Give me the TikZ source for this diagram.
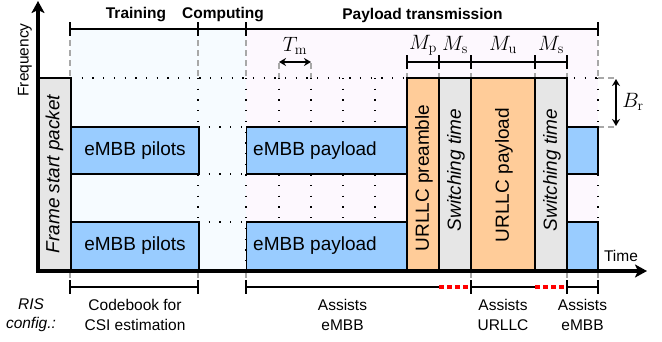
\documentclass[tikz,border=0pt]{standalone}
\usepackage[no-math]{fontspec}
\setmainfont{Liberation Sans}
\usetikzlibrary{arrows.meta}
\definecolor{embb}{HTML}{99CCFF}
\definecolor{urllc}{HTML}{FFCC99}
\definecolor{swg}{HTML}{E6E6E6}
\definecolor{bgblue}{HTML}{F6FBFF}
\definecolor{bgpink}{HTML}{FDF8FE}
\definecolor{dgray}{HTML}{A8A8A8}
\begin{document}
\begin{tikzpicture}[x=1pt,y=-1pt,
  blk/.style={draw=black, line width=1.4pt, inner sep=0pt, outer sep=0pt},
  embbbox/.style={blk, fill=embb},
  urllcbox/.style={blk, fill=urllc},
  swbox/.style={blk, fill=swg},
  bigtxt/.style={font=\fontsize{19}{22}\selectfont, inner sep=0pt},
  bigit/.style={font=\fontsize{19}{22}\selectfont\itshape, inner sep=0pt},
  hdr/.style={font=\fontsize{15.5}{18}\selectfont\bfseries, inner sep=0pt},
  smalltxt/.style={font=\fontsize{15.5}{19.5}\selectfont, inner sep=0pt, align=center},
  mathlbl/.style={font=\fontsize{19.5}{22}\selectfont, inner sep=0pt},
  dotline/.style={line width=1.3pt, dash pattern=on 1.3pt off 9.4pt, black},
  gdash/.style={line width=1.2pt, dash pattern=on 6pt off 4pt, dgray},
  rdash/.style={line width=3.2pt, dash pattern=on 5pt off 3pt, red},
  bar/.style={line width=1.5pt},
  dblarrow/.style={line width=1.6pt, {Stealth[length=7pt,width=8pt]}-{Stealth[length=7pt,width=8pt]}},
  axisline/.style={line width=3.5pt, line join=miter}
]
\useasboundingbox (0,0) rectangle (662,341);

% backgrounds
\fill[bgblue] (70,29) rectangle (246,271);
\fill[bgpink] (246,29) rectangle (598,271);

% dotted grid
\draw[dotline] (71,78) -- (598,78);
\foreach \yy in {127,174,222} { \draw[dotline] (198,\yy) -- (246,\yy); }
\foreach \xx in {198,246,279,311,343,375,598} { \draw[dotline] (\xx,78) -- (\xx,271); }

% grey dashed guides
\foreach \xx in {70,198,246,598} { \draw[gdash] (\xx,30) -- (\xx,78); }
\foreach \xx in {279,311,407,439,471,535,567} { \draw[gdash] (\xx,63) -- (\xx,78); }
\draw[gdash] (598,78) -- (617,78);
\draw[gdash] (598,127) -- (617,127);
\foreach \xx in {70,198,246,471,567,598} { \draw[gdash] (\xx,272) -- (\xx,287); }

% blocks
\node[swbox, minimum width=33pt, minimum height=193pt] (fsp) at (54.5,174.5) {};
\node[embbbox, minimum width=128pt, minimum height=47pt] (pil1) at (135,150.5) {};
\node[embbbox, minimum width=128pt, minimum height=49pt] (pil2) at (135,246.5) {};
\node[embbbox, minimum width=160.5pt, minimum height=47pt] (pay1) at (326.75,150.5) {};
\node[embbbox, minimum width=160.5pt, minimum height=49pt] (pay2) at (326.75,246.5) {};
\node[urllcbox, minimum width=32pt, minimum height=193pt] (pre) at (423,174.5) {};
\node[swbox, minimum width=32pt, minimum height=193pt] (sw1) at (455,174.5) {};
\node[urllcbox, minimum width=64pt, minimum height=193pt] (upay) at (503,174.5) {};
\node[swbox, minimum width=32pt, minimum height=193pt] (sw2) at (551,174.5) {};
\node[embbbox, minimum width=31pt, minimum height=47pt] (end1) at (582.5,150.5) {};
\node[embbbox, minimum width=31pt, minimum height=49pt] (end2) at (582.5,246.5) {};

% block texts
\node[bigit, rotate=90] (tfsp) at (54.5,174) {Frame start packet};
\node[bigtxt] (tpil1) at (135,151) {eMBB pilots};
\node[bigtxt] (tpil2) at (135,246) {eMBB pilots};
\node[bigtxt] (tpay1) at (315,151) {eMBB payload};
\node[bigtxt] (tpay2) at (315,246) {eMBB payload};
\node[bigtxt, rotate=90] (tpre) at (424,178) {URLLC preamble};
\node[bigit, rotate=90] (tsw1) at (456,170) {Switching time};
\node[bigtxt, rotate=90] (tupay) at (504,175) {URLLC payload};
\node[bigit, rotate=90] (tsw2) at (552,170) {Switching time};

% axes
\draw[axisline, {Stealth[length=12pt,width=13pt,inset=3pt]}-{Stealth[length=12pt,width=13pt,inset=3pt]}] (38,1) -- (38,271) -- (647,271);
\node[smalltxt, rotate=90] (freq) at (25,60) {Frequency};
\node[smalltxt] (time) at (621,256) {Time};

% top phase bar
\draw[line width=2.5pt] (70,29) -- (598,29);
\foreach \xx in {70,198,246,598} { \draw[line width=2.5pt] (\xx,22) -- (\xx,36); }
\node[hdr] (htrain) at (136,15) {Training};
\node[hdr] (hcomp) at (223,15) {Computing};
\node[hdr] (hpay) at (422.5,15) {Payload transmission};

% M bar
\draw[bar] (407,62) -- (567,62);
\foreach \xx in {407,439,471,535,567} { \draw[bar] (\xx,55) -- (\xx,69); }
\node[mathlbl] (mp) at (423,45) {$M_{\mathrm{p}}$};
\node[mathlbl] (ms1) at (455,45) {$M_{\mathrm{s}}$};
\node[mathlbl] (mu) at (503,45) {$M_{\mathrm{u}}$};
\node[mathlbl] (ms2) at (551,45) {$M_{\mathrm{s}}$};

% T_m
\coordinate (tma) at (279,62);
\coordinate (tmb) at (311,62);
\draw[dblarrow] (tma) -- (tmb);
\node[mathlbl] (tm) at (295,46) {$T_{\mathrm{m}}$};

% B_r
\coordinate (bra) at (616,79);
\coordinate (brb) at (616,126);
\draw[dblarrow] (bra) -- (brb);
\node[mathlbl] (br) at (633,102) {$B_{\mathrm{r}}$};

% bottom RIS configuration bars
\draw[bar] (70,287) -- (198,287);
\draw[bar] (246,287) -- (439,287);
\draw[rdash] (439,287) -- (471,287);
\draw[bar] (471,287) -- (535,287);
\draw[rdash] (535,287) -- (567,287);
\draw[bar] (567,287) -- (598,287);
\foreach \xx in {70,198,246,471,567,598} { \draw[bar] (\xx,280) -- (\xx,294); }

\node[smalltxt, font=\fontsize{15.5}{19.5}\selectfont\itshape] (ris) at (31,315) {RIS\\config.:};
\node[smalltxt] (cb) at (135,315) {Codebook for\\CSI estimation};
\node[smalltxt] (ae1) at (342.5,315) {Assists\\eMBB};
\node[smalltxt] (au) at (503,315) {Assists\\URLLC};
\node[smalltxt] (ae2) at (582.5,315) {Assists\\eMBB};
\end{tikzpicture}
\end{document}
